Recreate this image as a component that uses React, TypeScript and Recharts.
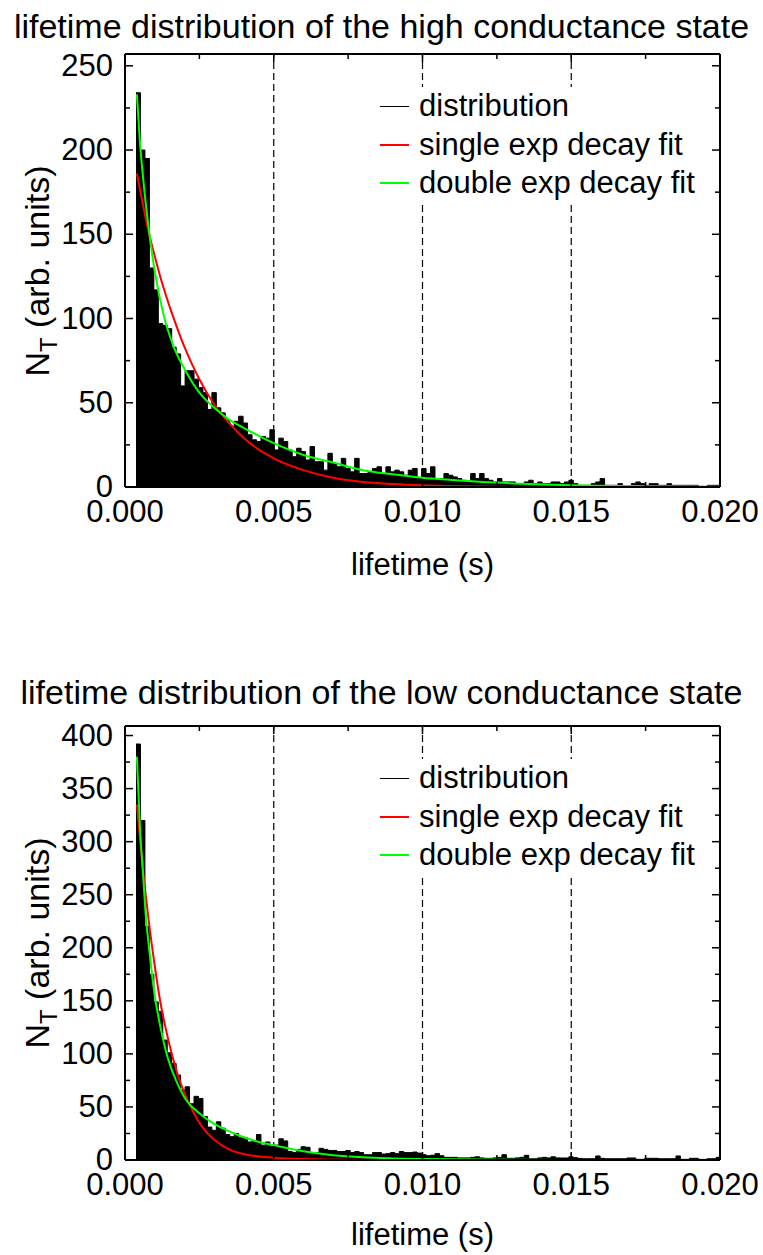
import React from 'react';
import { ComposedChart, Area, Line, XAxis, YAxis, ReferenceLine, Legend } from 'recharts';

const FONT = '"Liberation Sans", Arial, sans-serif';

// histogram bins: first bin starts at 0.37 ms, every bin is 0.15 ms wide
const BIN_START = 0.00037;
const BIN_WIDTH = 0.00015;

const X_TICKS = [0, 0.0025, 0.005, 0.0075, 0.01, 0.0125, 0.015, 0.0175, 0.02];
const X_MAJOR = [0, 0.005, 0.01, 0.015, 0.02];
const X_LABELS = ['0.000', '0.005', '0.010', '0.015', '0.020'];
const DASHED_AT = [0.005, 0.01, 0.015];

const HIGH_Y_TICKS = [0, 25, 50, 75, 100, 125, 150, 175, 200, 225, 250];
const LOW_Y_TICKS = [0, 25, 50, 75, 100, 125, 150, 175, 200, 225, 250, 275, 300, 325, 350, 375, 400];

const LEGEND_NAMES = ['distribution', 'single exp decay fit', 'double exp decay fit'];
const LEGEND_COLORS = ['#000000', '#ff0000', '#00ff00'];

// high conductance state
const HIGH_COUNTS = [
  234, 200, 195, 130, 117, 97, 96, 94, 83, 79,
  60, 69, 69, 64, 59, 56, 46, 56, 47, 44,
  40, 36, 39, 42, 38, 31, 28, 27, 30, 29,
  34, 22, 29, 27, 22, 18, 23, 21, 16, 24,
  15, 15, 10, 20, 14, 12, 17, 11, 9, 17,
  8, 8, 9, 11, 12, 8, 12, 9, 10, 9,
  7, 10, 11, 5, 11, 8, 12, 5, 5, 8,
  7, 6, 5, 4, 3, 8, 5, 8, 5, 4,
  3, 5, 3, 3, 3, 2, 2, 3, 4, 2,
  3, 2, 2, 3, 3, 2, 3, 4, 2, 1,
  1, 1, 2, 3, 5, 1, 1, 1, 2, 0.5,
  0.5, 2, 3, 2, 1, 2, 2, 1, 1, 2,
  1, 1, 1, 1, 1, 1, 0, 0, 1, 1, 1,
];
const HIGH_SINGLE_T = [0.0004, 0.0006, 0.0008, 0.001, 0.0013, 0.0016, 0.002, 0.0025, 0.003, 0.0035, 0.004, 0.005, 0.006, 0.007, 0.008, 0.009, 0.01, 0.012, 0.014, 0.016, 0.02];
const HIGH_SINGLE_N = [186, 168, 151, 137, 118, 102, 83, 64, 49, 38, 29, 17, 10, 5.5, 3, 1.8, 1, 0.3, 0.1, 0, 0];
const HIGH_DOUBLE_T = [0.0004, 0.0005, 0.0006, 0.0008, 0.001, 0.0013, 0.0016, 0.002, 0.0025, 0.003, 0.0035, 0.004, 0.005, 0.006, 0.007, 0.008, 0.009, 0.01, 0.011, 0.0125, 0.015, 0.0175, 0.02];
const HIGH_DOUBLE_N = [233, 205, 185, 153, 128, 102, 85, 70, 56, 47, 40, 35, 26, 19, 14.5, 10, 7.5, 5.5, 4.2, 2.6, 1.1, 0.5, 0.2];

// low conductance state
const LOW_COUNTS = [
  392, 320, 220, 175, 149, 140, 113, 101, 91, 80,
  66, 69, 53, 60, 58, 41, 31, 28, 36, 30,
  24, 22, 25, 21, 21, 17, 18, 24, 14, 17,
  13, 14, 20, 18, 8, 7, 10, 12.5, 12, 7,
  7, 11, 10, 9, 9, 8, 8, 9, 7, 8,
  7, 5, 5, 7, 7, 5.6, 6, 7, 6, 8,
  7, 7, 7.5, 6.5, 5, 4, 4.5, 6, 4, 2.5,
  2.5, 2.5, 2, 2, 2, 2.5, 3, 2, 1.6, 1.6,
  2, 2.5, 5, 1.6, 1.6, 2, 2.5, 4.4, 1.2, 1.2,
  2, 2.5, 2, 3, 2, 1.9, 1.9, 3, 2.2, 1.5,
  1.2, 1.2, 1.2, 3.8, 1.6, 1.2, 1.2, 1.2, 1.2, 1.2,
  1.9, 1.9, 0.6, 0.6, 1.6, 1.6, 1.6, 1.2, 1.2, 1.2,
  1.2, 3.8, 0.6, 0.6, 1.6, 1.6, 0.6, 0.6, 1.2, 1.2, 2.5,
];
const LOW_SINGLE_T = [0.0004, 0.0005, 0.0006, 0.0008, 0.001, 0.0012, 0.0014, 0.0016, 0.0018, 0.002, 0.0023, 0.0026, 0.003, 0.0035, 0.004, 0.005, 0.006, 0.008, 0.01, 0.02];
const LOW_SINGLE_N = [335, 305, 275, 225, 183, 147, 120, 97, 78, 63, 45, 31, 19, 10, 5.5, 2.2, 0.9, 0.2, 0, 0];
const LOW_DOUBLE_T = [0.0004, 0.0005, 0.0006, 0.0007, 0.0008, 0.001, 0.0012, 0.0014, 0.0017, 0.002, 0.0025, 0.003, 0.0035, 0.004, 0.0045, 0.005, 0.006, 0.007, 0.008, 0.009, 0.01, 0.012, 0.015, 0.02];
const LOW_DOUBLE_N = [380, 315, 272, 230, 202, 155, 124, 100, 76, 59, 44, 34, 27, 21.5, 17, 14, 8.3, 4.5, 2.5, 1.5, 0.9, 0.4, 0.1, 0];

const toHistogram = (counts: number[]) => {
  const rows = counts.map((n, i) => ({ t: BIN_START + i * BIN_WIDTH, n }));
  rows.push({ t: BIN_START + counts.length * BIN_WIDTH, n: counts[counts.length - 1] });
  return rows;
};
const toCurve = (ts: number[], ns: number[]) => ts.map((t, i) => ({ t, n: ns[i] }));

const xIndex = (v: number) => X_MAJOR.findIndex((m) => Math.abs(m - v) < 1e-9);

const BottomTick = (p: any) => {
  const i = xIndex(p.payload.value);
  return (
    <g>
      <line x1={p.x} x2={p.x} y1={p.y} y2={p.y - (i >= 0 ? 8 : 5)} stroke="#000" strokeWidth={1.5} />
      {i >= 0 && (
        <text x={p.x} y={p.y + 35} textAnchor="middle" fontSize={31} fontFamily={FONT} fill="#000">
          {X_LABELS[i]}
        </text>
      )}
    </g>
  );
};
const TopTick = (p: any) => {
  const i = xIndex(p.payload.value);
  return <line x1={p.x} x2={p.x} y1={p.y} y2={p.y + (i >= 0 ? 8 : 5)} stroke="#000" strokeWidth={1.5} />;
};
const LeftTick = (p: any) => {
  const major = p.payload.value % 50 === 0;
  return (
    <g>
      <line x1={p.x} x2={p.x + (major ? 8 : 5)} y1={p.y} y2={p.y} stroke="#000" strokeWidth={1.5} />
      {major && (
        <text x={p.x - 12} y={p.y + 10} textAnchor="end" fontSize={31} fontFamily={FONT} fill="#000">
          {p.payload.value}
        </text>
      )}
    </g>
  );
};
const RightTick = (p: any) => {
  const major = p.payload.value % 50 === 0;
  return <line x1={p.x} x2={p.x - (major ? 8 : 5)} y1={p.y} y2={p.y} stroke="#000" strokeWidth={1.5} />;
};

// white box so the dashed guide lines stop behind the legend, as in the original
const LegendBox = () => (
  <div style={{ fontFamily: FONT, fontSize: 31, color: '#000', background: '#fff', paddingLeft: 5 }}>
    {LEGEND_NAMES.map((name, i) => (
      <div key={name} style={{ display: 'flex', alignItems: 'center', height: 38.5, whiteSpace: 'nowrap' }}>
        <span style={{ width: 29, borderTop: `${i === 0 ? 1 : 2}px solid ${LEGEND_COLORS[i]}`, marginRight: 10 }} />
        <span>{name}</span>
      </div>
    ))}
  </div>
);

type PanelProps = {
  title: string;
  top: number;
  height: number;
  plotTop: number;
  plotBottom: number;
  yMax: number;
  yTicks: number[];
  counts: number[];
  single: { t: number; n: number }[];
  double: { t: number; n: number }[];
  legendTop: number;
  titleBaseline: number;
  xLabelBaseline: number;
};

const axisLine = { stroke: '#000', strokeWidth: 2 };

const Panel = (props: PanelProps) => {
  const { title, top, height, plotTop, plotBottom, yMax, yTicks, counts, single, double } = props;
  return (
    <div style={{ position: 'absolute', left: 0, top, width: 763, height }}>
      <div style={{ position: 'absolute', left: 0, width: 763, top: props.titleBaseline - 29, textAlign: 'center', fontFamily: FONT, fontSize: 34, lineHeight: '34px', whiteSpace: 'nowrap' }}>
        {title}
      </div>
      <ComposedChart width={763} height={height} margin={{ top: plotTop - 5, right: 38, bottom: height - plotBottom - 30, left: 65 }}>
        <XAxis xAxisId="b" dataKey="t" type="number" domain={[0, 0.02]} allowDataOverflow ticks={X_TICKS} interval={0}
          height={30} tickSize={0} tickMargin={0} tickLine={false} axisLine={axisLine} tick={(p: any) => <BottomTick {...p} />} />
        <XAxis xAxisId="t" orientation="top" dataKey="t" type="number" domain={[0, 0.02]} allowDataOverflow ticks={X_TICKS} interval={0}
          height={5} tickSize={0} tickMargin={0} tickLine={false} axisLine={axisLine} tick={(p: any) => <TopTick {...p} />} />
        <YAxis yAxisId="l" type="number" domain={[0, yMax]} allowDataOverflow ticks={yTicks} interval={0}
          width={60} tickSize={0} tickMargin={0} tickLine={false} axisLine={axisLine} tick={(p: any) => <LeftTick {...p} />} />
        <YAxis yAxisId="r" orientation="right" type="number" domain={[0, yMax]} allowDataOverflow ticks={yTicks} interval={0}
          width={5} tickSize={0} tickMargin={0} tickLine={false} axisLine={axisLine} tick={(p: any) => <RightTick {...p} />} />
        {DASHED_AT.map((x) => (
          <ReferenceLine key={x} xAxisId="b" yAxisId="l" x={x} stroke="#000" strokeWidth={1.2} strokeDasharray="7 4" />
        ))}
        <Area xAxisId="b" yAxisId="l" data={toHistogram(counts)} dataKey="n" name={LEGEND_NAMES[0]} type="stepAfter"
          stroke="#000" strokeWidth={1} fill="#000" fillOpacity={1} dot={false} activeDot={false} isAnimationActive={false} />
        <Line xAxisId="b" yAxisId="l" data={single} dataKey="n" name={LEGEND_NAMES[1]} type="monotone"
          stroke={LEGEND_COLORS[1]} strokeWidth={2} dot={false} activeDot={false} isAnimationActive={false} />
        <Line xAxisId="b" yAxisId="l" data={double} dataKey="n" name={LEGEND_NAMES[2]} type="monotone"
          stroke={LEGEND_COLORS[2]} strokeWidth={2} dot={false} activeDot={false} isAnimationActive={false} />
        <Legend layout="vertical" align="center" verticalAlign="middle" content={() => <LegendBox />}
          wrapperStyle={{ left: 375, top: props.legendTop, width: 330 }} />
      </ComposedChart>
      <div style={{ position: 'absolute', left: 43, top: (plotTop + plotBottom) / 2, transform: 'translate(-50%, -50%) rotate(-90deg)', fontFamily: FONT, fontSize: 34, whiteSpace: 'nowrap', lineHeight: '34px' }}>
        N<sub style={{ fontSize: 24 }}>T</sub> (arb. units)
      </div>
      <div style={{ position: 'absolute', left: 0, width: 845, top: props.xLabelBaseline - 26, textAlign: 'center', fontFamily: FONT, fontSize: 31, lineHeight: '31px' }}>
        lifetime (s)
      </div>
    </div>
  );
};

export default function App() {
  return (
    <div style={{ position: 'absolute', left: 0, top: 0, width: 763, height: 1255, background: '#fff' }}>
      <Panel title="lifetime distribution of the high conductance state" top={0} height={620} plotTop={54} plotBottom={487}
        yMax={257} yTicks={HIGH_Y_TICKS} counts={HIGH_COUNTS}
        single={toCurve(HIGH_SINGLE_T, HIGH_SINGLE_N)} double={toCurve(HIGH_DOUBLE_T, HIGH_DOUBLE_N)}
        legendTop={87} titleBaseline={38} xLabelBaseline={575} />
      <Panel title="lifetime distribution of the low conductance state" top={620} height={635} plotTop={106} plotBottom={540}
        yMax={409} yTicks={LOW_Y_TICKS} counts={LOW_COUNTS}
        single={toCurve(LOW_SINGLE_T, LOW_SINGLE_N)} double={toCurve(LOW_DOUBLE_T, LOW_DOUBLE_N)}
        legendTop={139} titleBaseline={84} xLabelBaseline={625} />
    </div>
  );
}
